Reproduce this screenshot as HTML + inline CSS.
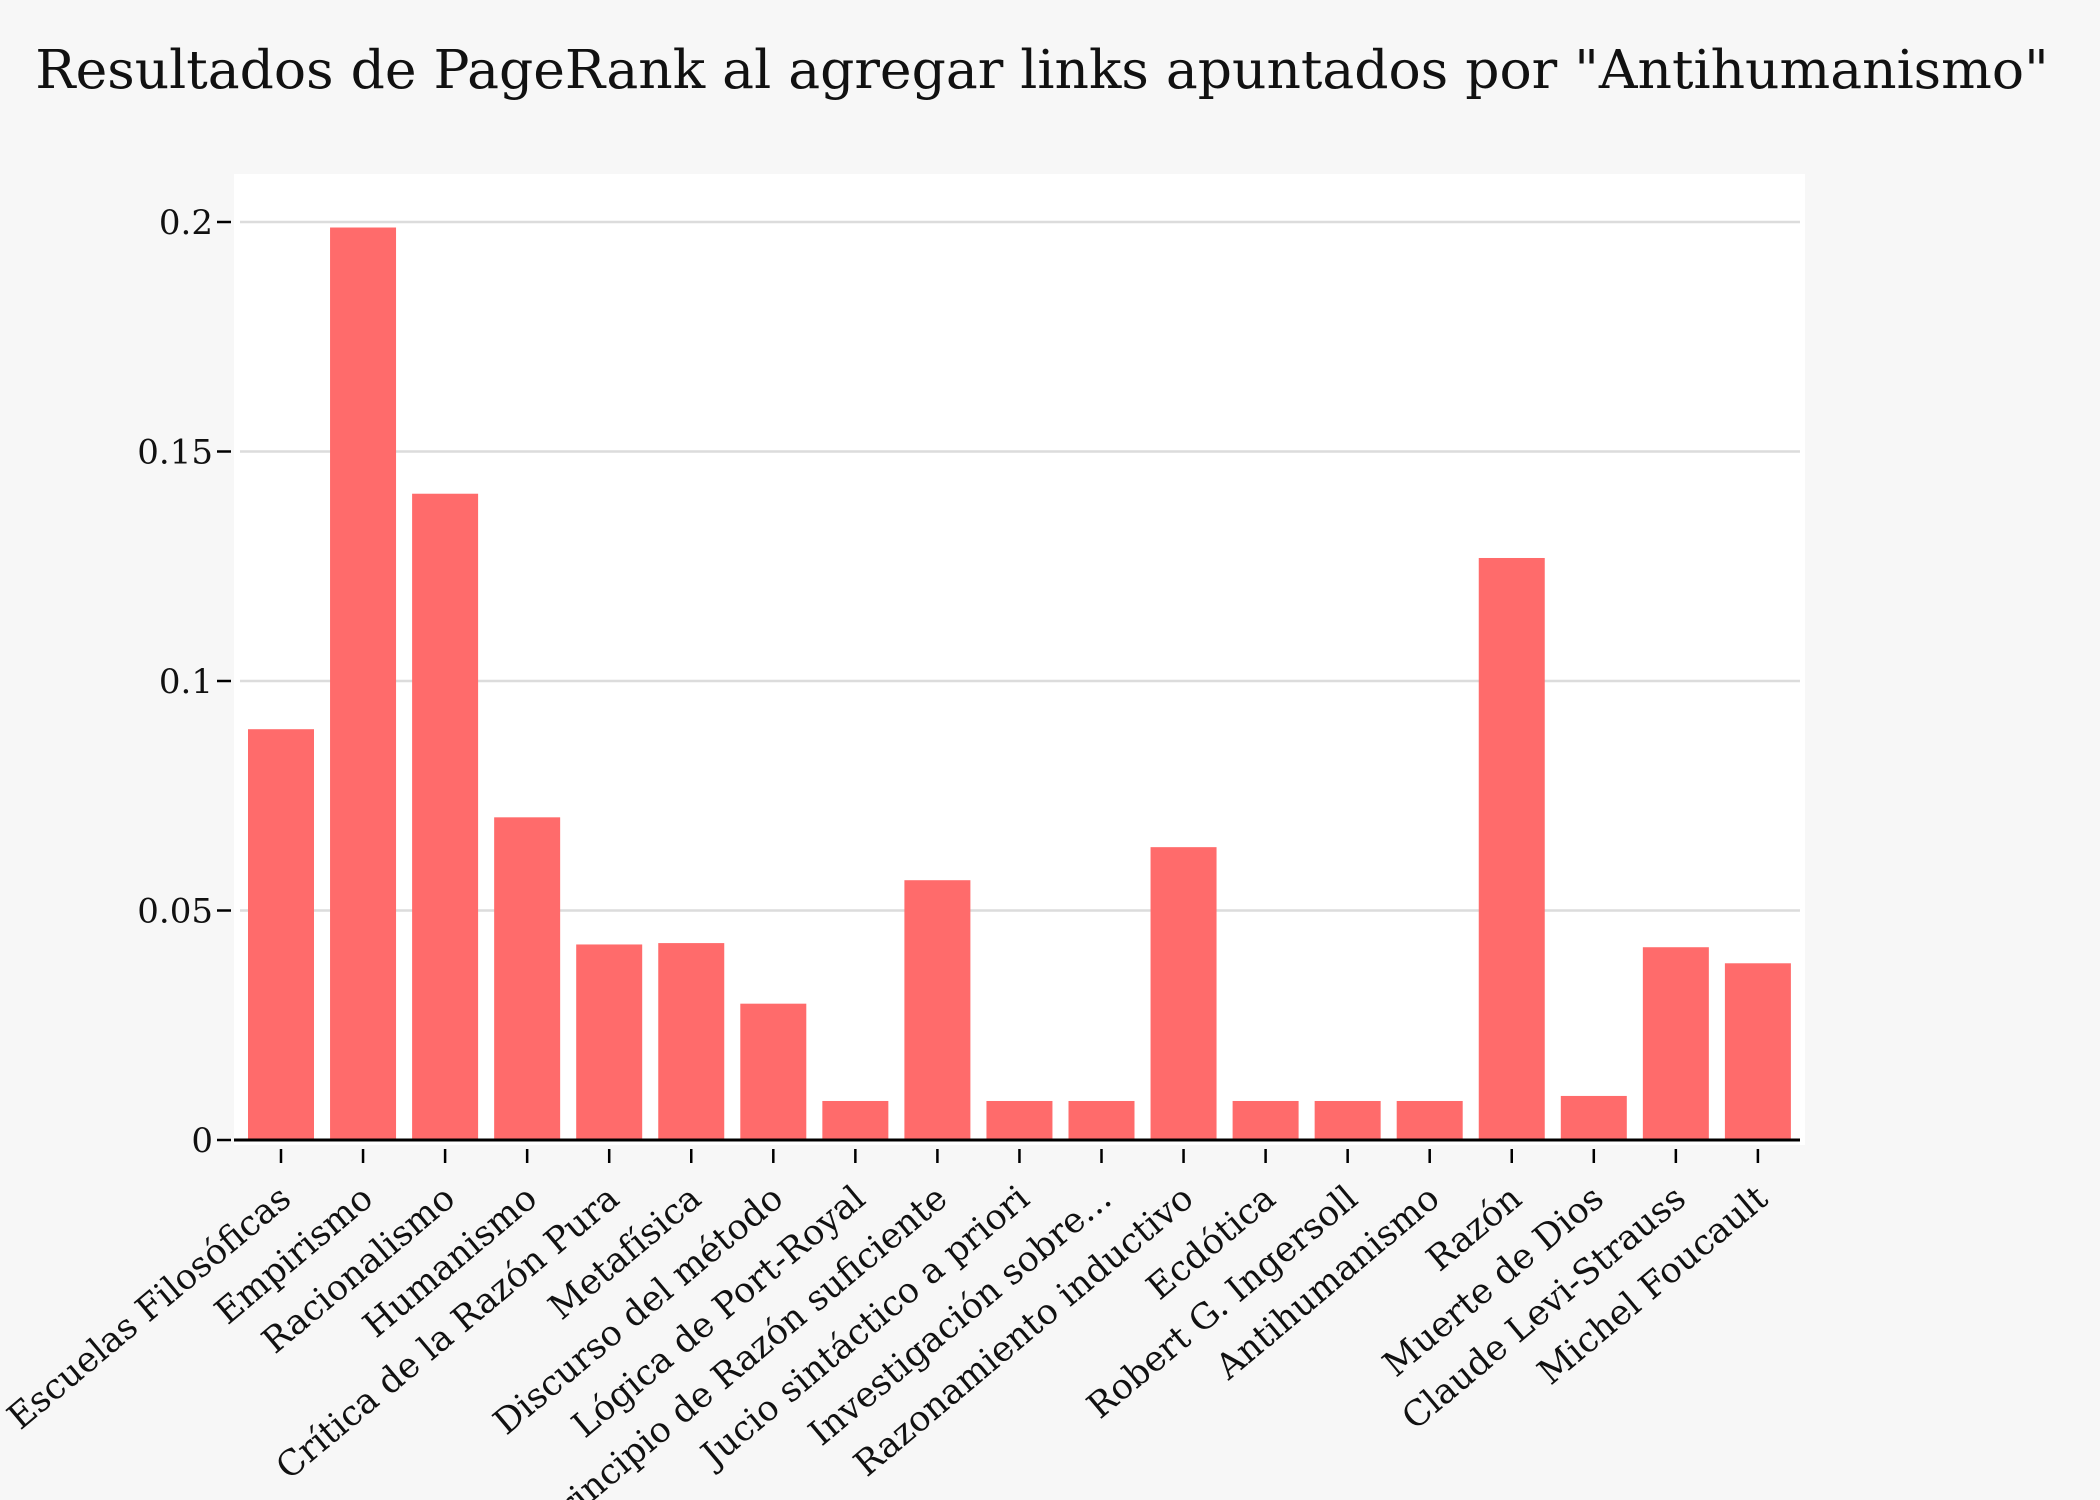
<!DOCTYPE html>
<html><head><meta charset="utf-8"><style>
body{margin:0;background:#f7f7f7}
svg{display:block;font-family:"DejaVu Serif","Liberation Serif",serif}
</style></head><body>
<svg id="chart" width="2100" height="1500" viewBox="0 0 2100 1500">
<rect width="2100" height="1500" fill="#f7f7f7"/>
<text x="1042" y="88" font-size="53.5" text-anchor="middle" fill="#111">Resultados de PageRank al agregar links apuntados por "Antihumanismo"</text>
<rect x="234" y="174" width="1571" height="971" fill="#fff"/>
<g id="grid"></g><g id="bars"></g><g id="axes"></g>
</svg>
<script>
const categories=["Escuelas Filosóficas","Empirismo","Racionalismo","Humanismo","Crítica de la Razón Pura","Metafísica","Discurso del método","Lógica de Port-Royal","Principio de Razón suficiente","Jucio sintáctico a priori","Investigación sobre...","Razonamiento inductivo","Ecdótica","Robert G. Ingersoll","Antihumanismo","Razón","Muerte de Dios","Claude Levi-Strauss","Michel Foucault"];
const values=[0.0895,0.1988,0.1408,0.0703,0.0426,0.0429,0.0297,0.0085,0.0566,0.0085,0.0085,0.0638,0.0085,0.0085,0.0085,0.1268,0.0096,0.042,0.0385];
const yTicks=[0,0.05,0.1,0.15,0.2];
const yTickLabels=["0","0.05","0.1","0.15","0.2"];
const NS="http://www.w3.org/2000/svg";
const y=v=>1140-v*4590;
const x=i=>281+i*82.05;
function mk(t,a,p){const e=document.createElementNS(NS,t);for(const k in a)e.setAttribute(k,a[k]);p.appendChild(e);return e;}
const grid=document.getElementById('grid'),bars=document.getElementById('bars'),axes=document.getElementById('axes');
yTicks.forEach((v,i)=>{
  if(v>0){const g=mk('line',{x1:240,x2:1800,y1:y(v),y2:y(v),stroke:'#dcdcdc','stroke-width':2.5},grid);
  
  }
  const t=mk('line',{x1:217,x2:231,y1:y(v),y2:y(v),stroke:'#000','stroke-width':2.5},axes);
  
  
  const l=mk('text',{x:213,y:y(v)+12,'font-size':34,'text-anchor':'end',fill:'#111'},axes);
  l.textContent=yTickLabels[i];
  
  
});
categories.forEach((c,i)=>{
  const b=mk('rect',{x:x(i)-33,y:y(values[i]),width:66,height:1140-y(values[i]),fill:'#ff6b6b'},bars);
  
  
  const t=mk('line',{x1:x(i),x2:x(i),y1:1149,y2:1163,stroke:'#000','stroke-width':2.5},axes);
  
  
  const l=mk('text',{transform:`translate(${x(i)+12},${1202}) rotate(-40)`,'font-size':35,'text-anchor':'end',fill:'#111'},axes);
  l.textContent=c;
  
  
});
const ax=mk('line',{x1:234,x2:1800,y1:1140,y2:1140,stroke:'#000','stroke-width':3},axes);


</script>
</body></html>
